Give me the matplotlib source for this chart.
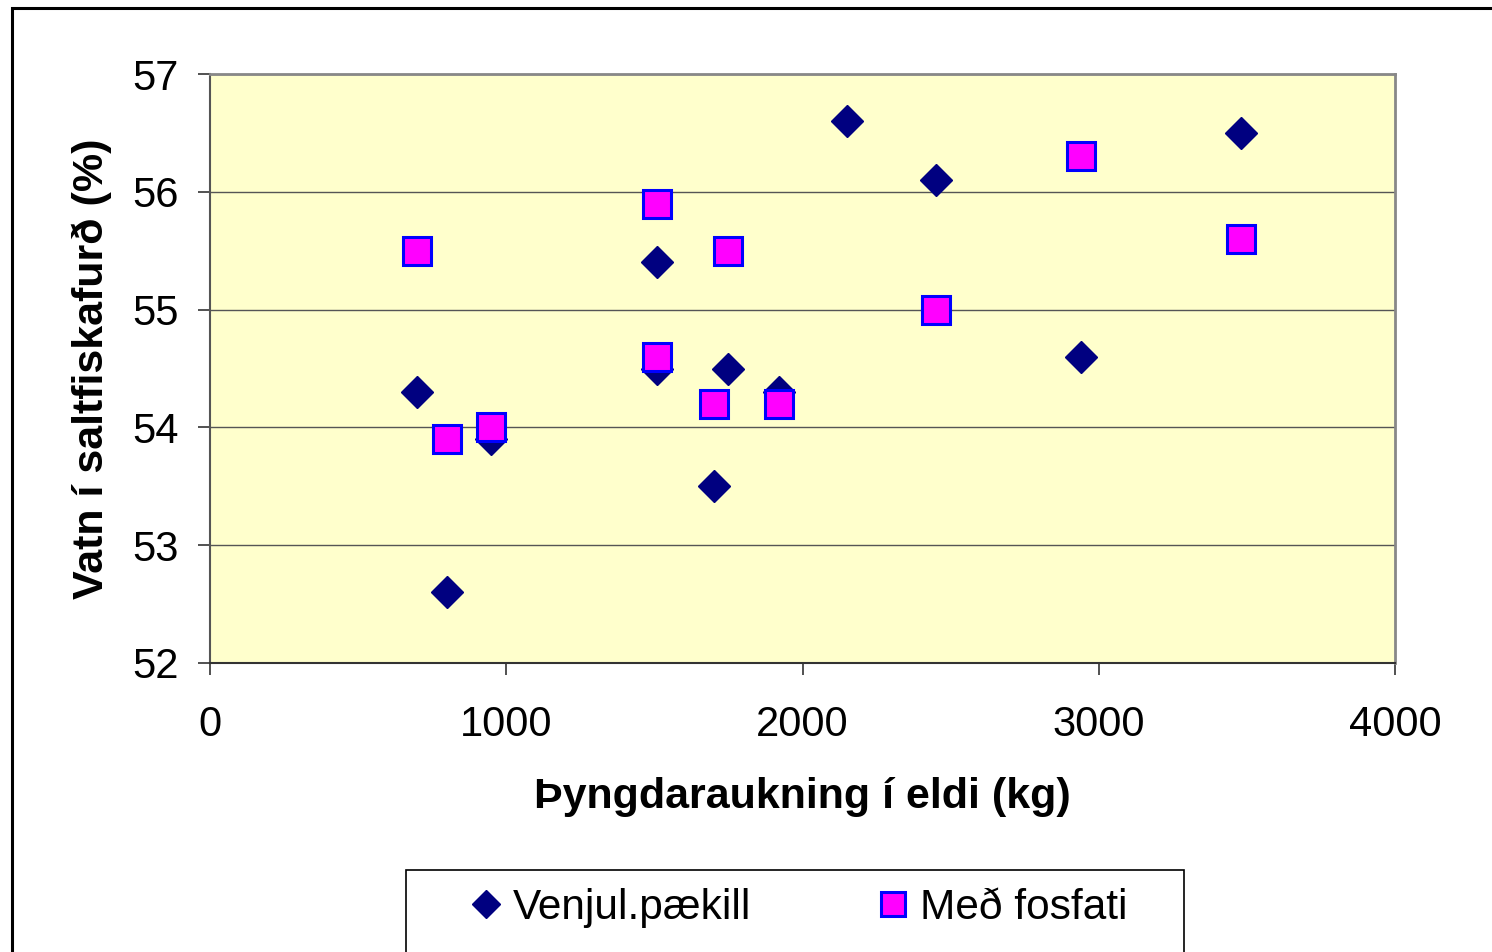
import matplotlib
matplotlib.use("Agg")
import matplotlib.pyplot as plt
from matplotlib.patches import Rectangle

plt.rcParams['font.family'] = ['Liberation Sans', 'DejaVu Sans']

# Gögn lesin af myndinni
venjul_x = [700, 800, 950, 1510, 1510, 1700, 1750, 1920, 2150, 2450, 2940, 3480]
venjul_y = [54.3, 52.6, 53.9, 55.4, 54.5, 53.5, 54.5, 54.3, 56.6, 56.1, 54.6, 56.5]
fosfat_x = [700, 800, 950, 1510, 1510, 1700, 1750, 1920, 2450, 2940, 3480]
fosfat_y = [55.5, 53.9, 54.0, 55.9, 54.6, 54.2, 55.5, 54.2, 55.0, 56.3, 55.6]
x_ticks = [0, 1000, 2000, 3000, 4000]
y_ticks = [52, 53, 54, 55, 56, 57]

W, H = 1492, 952
fig = plt.figure(figsize=(W / 100, H / 100), dpi=100)
fig.patch.set_facecolor('white')

# ytri rammi
fig.patches.append(Rectangle((12 / W, -0.2), 1.2, 1.2 - 8 / H, transform=fig.transFigure,
                             fill=False, edgecolor='black', linewidth=2.2, zorder=0))

ax = fig.add_axes([210 / W, 1 - 663 / H, (1395 - 210) / W, (663 - 74) / H])
ax.set_facecolor('#FFFFCC')

ax.plot(venjul_x, venjul_y, linestyle='none', marker='D', markersize=16.5,
        color='#000080', label='Venjul.pækill', zorder=3)
ax.plot(fosfat_x, fosfat_y, linestyle='none', marker='s', markersize=20,
        markerfacecolor='#FF00FF', markeredgecolor='#0000FF', markeredgewidth=2.2,
        label='Með fosfati', zorder=4)

ax.set_xlim(0, 4000)
ax.set_ylim(52, 57)
ax.set_xticks(x_ticks)
ax.set_yticks(y_ticks)
ax.yaxis.grid(True, color='#555555', linewidth=1)
ax.set_axisbelow(True)

for s in ['top', 'right']:
    ax.spines[s].set_color('#888888')
    ax.spines[s].set_linewidth(2)
ax.spines['left'].set_color('#555555')
ax.spines['left'].set_linewidth(1.5)
ax.spines['bottom'].set_color('#333333')
ax.spines['bottom'].set_linewidth(1.5)

ax.tick_params(axis='both', direction='out', length=8.6, width=1.2, color='#333333',
               labelsize=30)
ax.tick_params(axis='y', pad=14)
ax.tick_params(axis='x', pad=22)

ax.set_xlabel('Þyngdaraukning í eldi (kg)', fontsize=31, fontweight='bold')
ax.set_ylabel('Vatn í saltfiskafurð (%)', fontsize=31, fontweight='bold')
ax.xaxis.set_label_coords(0.5, -(797 - 663) / (663 - 74))
ax.yaxis.set_label_coords(-(210 - 92) / (1395 - 210), 0.5)
ax.xaxis.label.set_va('center')
ax.yaxis.label.set_va('center')

# skýringarrammi
fig.patches.append(Rectangle((406 / W, -0.1), (1184 - 406) / W, 0.1 + 1 - 870 / H,
                             transform=fig.transFigure, fill=False, edgecolor='black',
                             linewidth=1.2, zorder=1))
leg = fig.legend(loc='center', bbox_to_anchor=(796 / W, 1 - 908 / H), ncol=2,
                 frameon=False, fontsize=30.5, handletextpad=0.15, columnspacing=2.83,
                 handlelength=1.0, markerscale=0.85)

fig.savefig('out.png', dpi=100)
